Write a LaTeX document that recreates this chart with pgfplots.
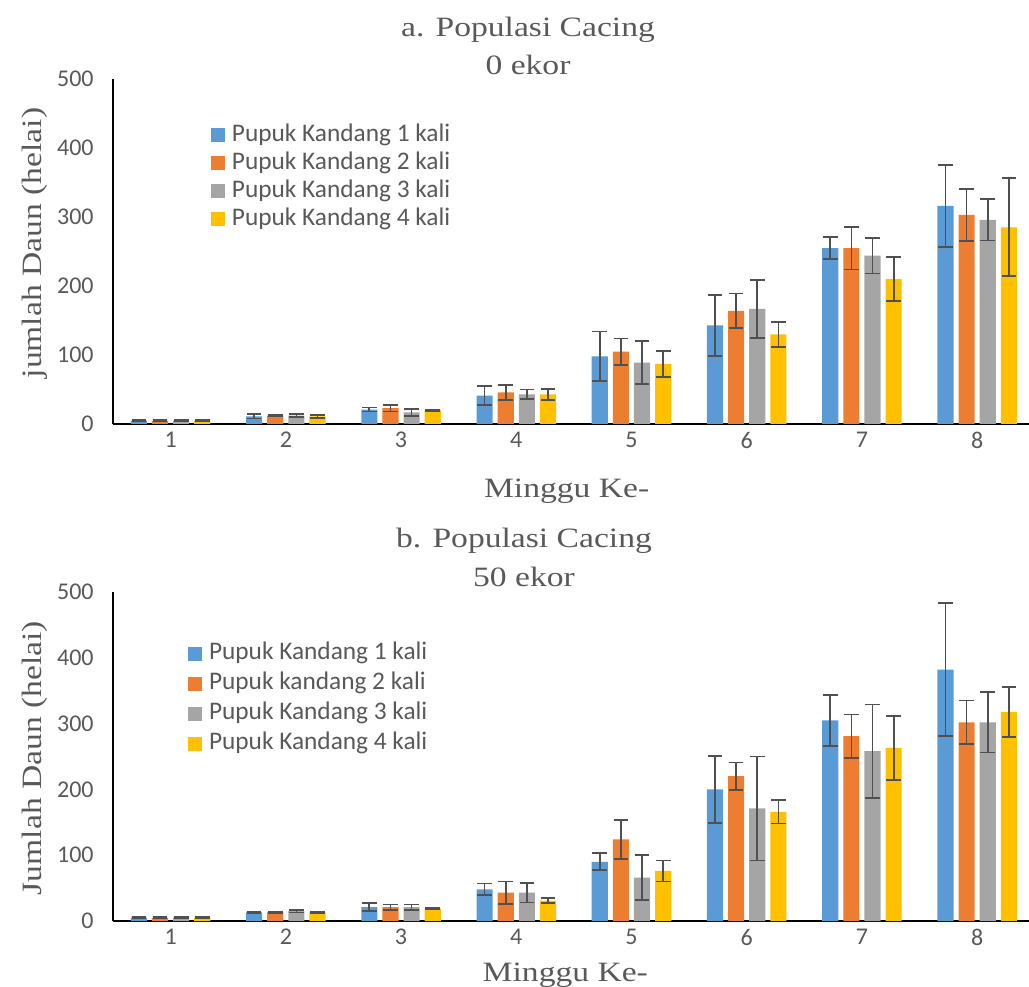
\documentclass[border=0pt]{standalone}
\usepackage{fontspec}
\setmainfont{Liberation Serif}
\newfontfamily\calibri{Carlito}
\newfontfamily\cambria[FakeStretch=1.2]{Liberation Serif}
\usepackage{pgfplots}
\usepackage{pgfplotstable}
\pgfplotsset{compat=1.18}

\definecolor{cblue}{HTML}{5B9BD5}
\definecolor{corange}{HTML}{ED7D31}
\definecolor{cgray}{HTML}{A5A5A5}
\definecolor{cyellow}{HTML}{FFC000}
\definecolor{txtgray}{HTML}{595959}
\definecolor{errgray}{HTML}{505050}

% minggu, rerata dan simpangan tiap perlakuan
\pgfplotstableread{
x a ae b be c ce d de
1 5 1 5 1 5 1 5 1
2 11 3 12 1 12 2 11 2
3 21 3 23 5 17 5 20 1
4 41 14 46 11 43 7 43 8
5 98 36 105 19 89 31 87 19
6 143 44 164 25 167 42 130 18
7 255 16 255 31 244 26 210 32
8 316 59 303 38 296 30 285 71
}\popnol

\pgfplotstableread{
x a ae b be c ce d de
1 5 1 5 1 5 1 5 1
2 13 1 13 1 15 2 13 1
3 21 6 21 4 21 4 19 1
4 48 9 43 17 43 15 31 4
5 90 13 124 30 66 34 76 16
6 200 51 220 21 171 79 166 18
7 305 39 281 33 258 71 263 49
8 382 101 302 33 302 46 318 38
}\popfifty

\pgfplotsset{cacing/.style={
  scale only axis, width=687pt,
  xmin=0.5, xmax=8.45, ymin=0, ymax=500,
  axis x line=bottom, axis y line=left,
  axis line style={-, line width=2.2pt, black},
  major tick length=0pt,
  xtick={1,...,8}, ytick={0,100,...,500},
  ybar=3.75pt, bar width=0.14,
  tick label style={font=\calibri\fontsize{18}{20}\selectfont, text=txtgray},
  /pgf/number format/assume math mode=true,
  yticklabel style={xshift=-11pt},
  xticklabel style={yshift=-2.5pt},
  legend cell align=left,
  legend image code/.code={\fill[##1] (0pt,-5.25pt) rectangle (10.5pt,5.25pt);},
  legend style={draw=none, fill=none, anchor=north west,
    font=\calibri\fontsize{19}{21}\selectfont, text=txtgray,
    inner sep=0pt, row sep=2pt,
    nodes={inner sep=0pt, text height=14pt, text depth=5pt},
    /tikz/every odd column/.append style={column sep=5pt}},
  error bars/y dir=both, error bars/y explicit,
  error bars/error bar style={line width=1.3pt, draw=errgray},
  error bars/error mark options={rotate=90, mark size=5.5pt, line width=1.3pt, draw=errgray},
  clip=false,
}}

\begin{document}
\begin{tikzpicture}
\useasboundingbox (0,0) rectangle (771.75pt,-740.25pt);

\begin{axis}[cacing, height=258.75pt, at={(84.75pt,-59.25pt)}, anchor=north west,
  legend style={at={(0.107,0.875)}}]
\addplot[fill=cblue, draw=none] table[x=x, y=a, y error=ae] {\popnol};
\addplot[fill=corange, draw=none] table[x=x, y=b, y error=be] {\popnol};
\addplot[fill=cgray, draw=none] table[x=x, y=c, y error=ce] {\popnol};
\addplot[fill=cyellow, draw=none] table[x=x, y=d, y error=de] {\popnol};
\legend{Pupuk Kandang 1 kali, Pupuk Kandang 2 kali, Pupuk Kandang 3 kali, Pupuk Kandang 4 kali}
\end{axis}

\begin{axis}[cacing, height=246.75pt, at={(84.75pt,-444pt)}, anchor=north west,
  legend style={at={(0.082,0.852)}, row sep=3.5pt}]
\addplot[fill=cblue, draw=none] table[x=x, y=a, y error=ae] {\popfifty};
\addplot[fill=corange, draw=none] table[x=x, y=b, y error=be] {\popfifty};
\addplot[fill=cgray, draw=none] table[x=x, y=c, y error=ce] {\popfifty};
\addplot[fill=cyellow, draw=none] table[x=x, y=d, y error=de] {\popfifty};
\legend{Pupuk Kandang 1 kali, Pupuk kandang 2 kali, Pupuk Kandang 3 kali, Pupuk Kandang 4 kali}
\end{axis}

% judul dan label sumbu
\begin{scope}[every node/.style={font=\cambria\fontsize{21}{24}\selectfont, text=txtgray}]
\node[anchor=base] at (396pt,-27.75pt) {a. Populasi Cacing};
\node[anchor=base] at (396pt,-56.25pt) {0 ekor};
\node[anchor=base] at (393pt,-411pt) {b. Populasi Cacing};
\node[anchor=base] at (393pt,-440pt) {50 ekor};
\node[anchor=base] at (425pt,-373.5pt) {Minggu Ke-};
\node[anchor=base] at (424pt,-736pt) {Minggu Ke-};
\node[rotate=90] at (26.25pt,-182.25pt) {jumlah Daun (helai)};
\node[rotate=90] at (26.25pt,-568.5pt) {Jumlah Daun (helai)};
\end{scope}
\end{tikzpicture}
\end{document}
